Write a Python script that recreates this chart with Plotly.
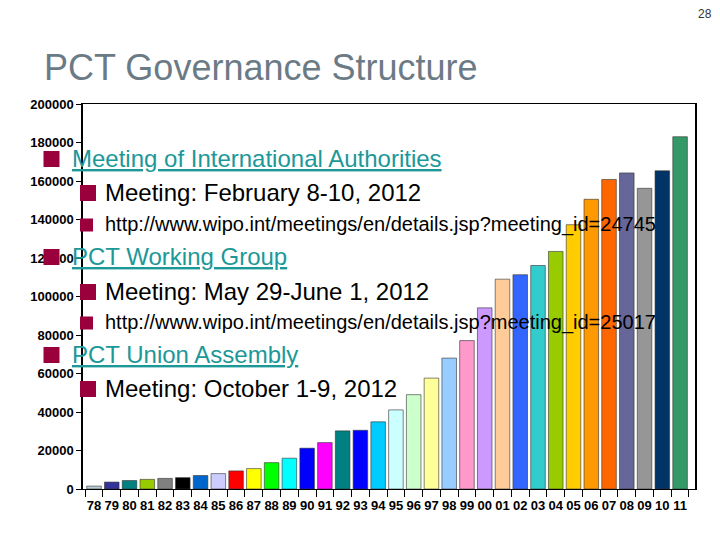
import plotly.graph_objects as go

# ---------------- data ----------------
years = ["78", "79", "80", "81", "82", "83", "84", "85", "86", "87", "88", "89",
         "90", "91", "92", "93", "94", "95", "96", "97", "98", "99", "00", "01",
         "02", "03", "04", "05", "06", "07", "08", "09", "10", "11"]
filings = [1500, 3600, 4400, 5000, 5500, 5900, 7000, 8000, 9400, 10600, 13700, 16000,
           21200, 24100, 30200, 30500, 34900, 41100, 49000, 57600, 68000, 77100, 94100, 109000,
           111300, 116100, 123400, 137300, 150500, 160800, 164200, 156200, 165300, 183000]
bar_colors = ["#B8CCD8", "#333399", "#008080", "#99CC00", "#808080", "#000000", "#0066CC", "#CCCCFF",
              "#FF0000", "#FFFF00", "#00FF00", "#00FFFF", "#0000FF", "#FF00FF", "#008080", "#0000FF",
              "#00CCFF", "#CCFFFF", "#CCFFCC", "#FFFF99", "#99CCFF", "#FF99CC", "#CC99FF", "#FFCC99",
              "#3366FF", "#33CCCC", "#99CC00", "#FFCC00", "#FF9900", "#FF6600", "#666699", "#969696",
              "#003366", "#339966"]
y_ticks = [0, 20000, 40000, 60000, 80000, 100000, 120000, 140000, 160000, 180000, 200000]

title_text = "PCT Governance Structure"
page_no = "28"
bullets = [
    (1, "Meeting of International Authorities", True),
    (2, "Meeting: February 8-10, 2012", False),
    (3, "http://www.wipo.int/meetings/en/details.jsp?meeting_id=24745", False),
    (1, "PCT Working Group", True),
    (2, "Meeting: May 29-June 1, 2012", False),
    (3, "http://www.wipo.int/meetings/en/details.jsp?meeting_id=25017", False),
    (1, "PCT Union Assembly", True),
    (2, "Meeting: October 1-9, 2012", False),
]
bullet_rows_px = [158, 192, 224, 256, 291, 322, 354, 388]

# ---------------- layout geometry ----------------
# the page body adds an 8px offset (top/left); the figure is sized to fill the rest
OFF = 8
W, H = 720 - OFF, 540 - OFF
ML, MR, MT, MB = 83 - OFF, 25, 104 - OFF, 51


def px_x(px):
    return (px - OFF - ML) / (W - ML - MR)


def px_y(py):
    return (H - MB - (py - OFF)) / (H - MT - MB)


fig = go.Figure()
fig.add_trace(go.Bar(
    x=years, y=filings,
    marker=dict(color=bar_colors, line=dict(color="#333333", width=0.6)),
    width=0.82,
    showlegend=False,
))

link_color = "#1C9898"
bullet_color = "#99003C"
annotations = []
shapes = []

levels = {1: dict(bx=51.5, size=16, tx=70, fs=24),
          2: dict(bx=88, size=16, tx=103, fs=24),
          3: dict(bx=86.5, size=13, tx=103, fs=20)}

for (lvl, txt, is_link), cy in zip(bullets, bullet_rows_px):
    cfg = levels[lvl]
    half = cfg["size"] / 2
    shapes.append(dict(type="rect", xref="paper", yref="paper",
                       x0=px_x(cfg["bx"] - half), x1=px_x(cfg["bx"] + half),
                       y0=px_y(cy + 1 + half), y1=px_y(cy + 1 - half),
                       fillcolor=bullet_color, line=dict(width=0), layer="above"))
    annotations.append(dict(
        xref="paper", yref="paper", x=px_x(cfg["tx"]), y=px_y(cy),
        xanchor="left", yanchor="middle", showarrow=False,
        text=f"<u>{txt}</u>" if is_link else txt,
        font=dict(family="Arial, Liberation Sans", size=cfg["fs"],
                  color=link_color if is_link else "#000000"),
    ))

# title and page number
annotations.append(dict(xref="paper", yref="paper", x=px_x(42), y=px_y(68),
                        xanchor="left", yanchor="middle", showarrow=False,
                        text=title_text,
                        font=dict(family="Arial, Liberation Sans", size=36, color="#6B7B86")))
annotations.append(dict(xref="paper", yref="paper", x=px_x(714), y=px_y(14),
                        xanchor="right", yanchor="middle", showarrow=False,
                        text=page_no,
                        font=dict(family="Liberation Sans Narrow, Arial", size=12, color="#333333")))

fig.update_layout(
    width=W, height=H,
    margin=dict(l=ML, r=MR, t=MT, b=MB),
    paper_bgcolor="white", plot_bgcolor="white",
    annotations=annotations,
    shapes=shapes,
    xaxis=dict(type="category", range=[-0.62, 33.84],
               showline=True, linecolor="#000000", linewidth=1.2, mirror=True,
               ticks="outside", tickson="boundaries", ticklen=7, tickcolor="#000000",
               tickangle=0, ticklabelstandoff=4,
               tickfont=dict(family="Arial, Liberation Sans", size=13, color="#000000", weight="bold"),
               showgrid=False, zeroline=False),
    yaxis=dict(range=[0, 200000], tickvals=y_ticks, tickformat="d",
               showline=True, linecolor="#000000", linewidth=1.5, mirror=True,
               ticks="outside", ticklen=5, tickcolor="#000000",
               tickfont=dict(family="Arial, Liberation Sans", size=13, color="#000000", weight="bold"),
               showgrid=False, zeroline=False),
)

fig.write_html("out.html")
